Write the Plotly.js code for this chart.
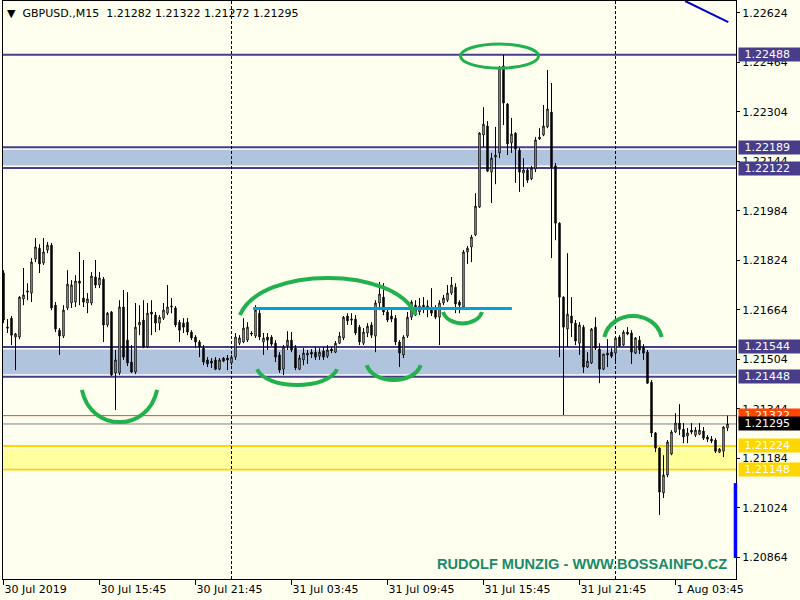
<!DOCTYPE html>
<html><head><meta charset="utf-8">
<script src="https://cdn.plot.ly/plotly-3.0.1.min.js"></script>
<style>html,body{margin:0;padding:0;background:#FFFFF0;}#chart{width:800px;height:600px;}</style>
</head><body><div id="chart"></div>
<script>
// ---------- data ----------
const symbol = "GBPUSD.,M15";
const tickIndex = [0, 24, 48, 72, 96, 120, 144, 168];
const tickLabels = ["30 Jul 2019", "30 Jul 15:45", "30 Jul 21:45", "31 Jul 03:45", "31 Jul 09:45", "31 Jul 15:45", "31 Jul 21:45", "1 Aug 03:45"];
const daySeparators = [57, 153];

const open = [
1.21783,1.21608,1.21637,1.21576,1.21576,1.21699,1.21721,1.21718,1.21828,1.21863,
1.21815,1.21857,1.21873,1.21679,1.21598,1.21579,1.21670,1.21686,1.21689,1.21757,
1.21702,1.21686,1.21686,1.21770,1.21744,1.21763,1.21615,1.21657,1.21460,1.21460,
1.21673,1.21566,1.21495,1.21463,1.21615,1.21631,1.21544,1.21657,1.21647,1.21621,
1.21637,1.21653,1.21673,1.21670,1.21624,1.21621,1.21624,1.21592,1.21576,1.21560,
1.21540,1.21502,1.21498,1.21502,1.21472,1.21508,1.21508,1.21492,1.21511,1.21556,
1.21560,1.21566,1.21589,1.21579,1.21653,1.21560,1.21576,1.21576,1.21556,1.21518,
1.21472,1.21547,1.21566,1.21540,1.21472,1.21502,1.21518,1.21527,1.21527,1.21514,
1.21531,1.21514,1.21537,1.21527,1.21556,1.21573,1.21644,1.21634,1.21634,1.21608,
1.21556,1.21589,1.21615,1.21579,1.21686,1.21705,1.21657,1.21644,1.21637,1.21560,
1.21518,1.21579,1.21640,1.21679,1.21657,1.21679,1.21676,1.21673,1.21663,1.21640,
1.21686,1.21695,1.21718,1.21737,1.21689,1.21673,1.21851,1.21867,1.21906,1.21996,
1.22229,1.22258,1.22109,1.22158,1.22171,1.22452,1.22329,1.22203,1.22235,1.22180,
1.22106,1.22116,1.22087,1.22119,1.22216,1.22229,1.22255,1.22303,1.22129,1.21944,
1.21705,1.21602,1.21644,1.21621,1.21556,1.21608,1.21479,1.21492,1.21608,1.21537,
1.21472,1.21524,1.21527,1.21524,1.21576,1.21550,1.21592,1.21589,1.21524,1.21566,
1.21544,1.21527,1.21430,1.21266,1.21217,1.21072,1.21130,1.21198,1.21269,1.21298,
1.21278,1.21256,1.21275,1.21259,1.21262,1.21272,1.21253,1.21246,1.21243,1.21204,
1.21207,1.21282];
const high = [
1.21792,1.21634,1.21644,1.21589,1.21708,1.21799,1.21750,1.21831,1.21896,1.21876,
1.21896,1.21883,1.21880,1.21689,1.21605,1.21679,1.21792,1.21760,1.21776,1.21851,
1.21825,1.21718,1.21786,1.21825,1.21786,1.21770,1.21657,1.21660,1.21534,1.21695,
1.21728,1.21721,1.21550,1.21686,1.21679,1.21695,1.21686,1.21695,1.21657,1.21647,
1.21686,1.21744,1.21702,1.21676,1.21631,1.21637,1.21637,1.21598,1.21582,1.21566,
1.21550,1.21511,1.21508,1.21511,1.21508,1.21511,1.21518,1.21518,1.21589,1.21582,
1.21637,1.21624,1.21595,1.21679,1.21663,1.21589,1.21589,1.21582,1.21566,1.21527,
1.21550,1.21595,1.21592,1.21550,1.21518,1.21540,1.21534,1.21537,1.21544,1.21540,
1.21544,1.21550,1.21544,1.21563,1.21592,1.21644,1.21653,1.21653,1.21647,1.21615,
1.21605,1.21621,1.21624,1.21695,1.21754,1.21750,1.21670,1.21673,1.21647,1.21566,
1.21582,1.21657,1.21695,1.21695,1.21702,1.21705,1.21695,1.21734,1.21679,1.21695,
1.21712,1.21744,1.21770,1.21750,1.21695,1.21857,1.21870,1.21906,1.22041,1.22238,
1.22319,1.22274,1.22171,1.22255,1.22452,1.22488,1.22332,1.22284,1.22238,1.22187,
1.22154,1.22122,1.22129,1.22222,1.22251,1.22326,1.22439,1.22397,1.22138,1.21947,
1.21708,1.21847,1.21705,1.21631,1.21624,1.21615,1.21527,1.21605,1.21640,1.21556,
1.21521,1.21569,1.21540,1.21576,1.21582,1.21598,1.21608,1.21598,1.21576,1.21579,
1.21553,1.21534,1.21437,1.21269,1.21220,1.21194,1.21243,1.21275,1.21330,1.21359,
1.21298,1.21282,1.21298,1.21285,1.21298,1.21285,1.21259,1.21256,1.21249,1.21217,
1.21288,1.21322];
const low = [
1.21621,1.21589,1.21550,1.21469,1.21569,1.21679,1.21695,1.21689,1.21818,1.21783,
1.21809,1.21847,1.21663,1.21592,1.21518,1.21573,1.21663,1.21670,1.21673,1.21679,
1.21673,1.21653,1.21679,1.21734,1.21734,1.21560,1.21608,1.21450,1.21340,1.21453,
1.21502,1.21482,1.21460,1.21456,1.21582,1.21540,1.21540,1.21582,1.21592,1.21598,
1.21631,1.21647,1.21653,1.21608,1.21560,1.21589,1.21582,1.21566,1.21540,1.21511,
1.21485,1.21479,1.21476,1.21469,1.21469,1.21495,1.21469,1.21485,1.21502,1.21550,
1.21556,1.21560,1.21579,1.21573,1.21566,1.21518,1.21534,1.21547,1.21495,1.21460,
1.21453,1.21534,1.21527,1.21469,1.21469,1.21485,1.21489,1.21508,1.21502,1.21502,
1.21502,1.21508,1.21524,1.21524,1.21553,1.21566,1.21615,1.21615,1.21582,1.21550,
1.21550,1.21576,1.21573,1.21527,1.21663,1.21647,1.21624,1.21624,1.21550,1.21479,
1.21508,1.21573,1.21631,1.21644,1.21647,1.21653,1.21640,1.21644,1.21634,1.21550,
1.21679,1.21689,1.21712,1.21653,1.21653,1.21663,1.21812,1.21818,1.21902,1.21993,
1.22190,1.22109,1.22009,1.22070,1.22154,1.22261,1.22164,1.22171,1.22074,1.22045,
1.22061,1.22074,1.22083,1.22109,1.22213,1.22225,1.22251,1.21831,1.21889,1.21511,
1.21324,1.21544,1.21576,1.21550,1.21518,1.21460,1.21476,1.21489,1.21534,1.21427,
1.21469,1.21479,1.21508,1.21492,1.21544,1.21547,1.21582,1.21489,1.21521,1.21521,
1.21502,1.21424,1.21253,1.21204,1.21001,1.21056,1.21123,1.21194,1.21266,1.21259,
1.21233,1.21233,1.21262,1.21253,1.21259,1.21243,1.21237,1.21233,1.21201,1.21201,
1.21188,1.21272];
const close = [
1.21631,1.21605,1.21582,1.21586,1.21705,1.21712,1.21725,1.21818,1.21867,1.21812,
1.21851,1.21873,1.21670,1.21602,1.21579,1.21663,1.21747,1.21744,1.21757,1.21750,
1.21689,1.21699,1.21773,1.21744,1.21767,1.21615,1.21653,1.21453,1.21502,1.21673,
1.21511,1.21492,1.21463,1.21608,1.21624,1.21544,1.21653,1.21650,1.21621,1.21640,
1.21663,1.21673,1.21676,1.21615,1.21598,1.21608,1.21592,1.21573,1.21560,1.21544,
1.21495,1.21489,1.21492,1.21472,1.21502,1.21498,1.21502,1.21511,1.21576,1.21573,
1.21605,1.21608,1.21586,1.21663,1.21576,1.21573,1.21566,1.21553,1.21511,1.21469,
1.21544,1.21566,1.21534,1.21476,1.21508,1.21524,1.21524,1.21521,1.21511,1.21527,
1.21511,1.21534,1.21531,1.21556,1.21579,1.21640,1.21628,1.21631,1.21589,1.21560,
1.21592,1.21611,1.21582,1.21686,1.21715,1.21657,1.21631,1.21634,1.21560,1.21524,
1.21576,1.21640,1.21689,1.21647,1.21676,1.21670,1.21670,1.21653,1.21640,1.21686,
1.21702,1.21718,1.21744,1.21683,1.21679,1.21851,1.21863,1.21899,1.21999,1.22235,
1.22264,1.22112,1.22154,1.22164,1.22445,1.22332,1.22200,1.22232,1.22183,1.22109,
1.22116,1.22083,1.22122,1.22213,1.22222,1.22258,1.22313,1.22125,1.21944,1.21705,
1.21608,1.21650,1.21621,1.21563,1.21615,1.21479,1.21498,1.21602,1.21540,1.21472,
1.21521,1.21518,1.21514,1.21573,1.21547,1.21592,1.21586,1.21527,1.21573,1.21534,
1.21524,1.21427,1.21266,1.21217,1.21075,1.21130,1.21237,1.21269,1.21298,1.21278,
1.21253,1.21266,1.21269,1.21275,1.21275,1.21249,1.21246,1.21240,1.21207,1.21214,
1.21285,1.21295];

// price levels drawn on the chart
const topLevel = 1.22488;
const upperZone = [1.22122, 1.22189];
const lowerZone = [1.21448, 1.21544];
const yellowZone = [1.21148, 1.21224];
const askPrice = 1.21322;
const neckline = {price: 1.21668, from: 62.4, to: 127.1};

// ---------- styling ----------
const FONT = "DejaVu Sans, Verdana, sans-serif";
const BG = "#FFFFF0";
const SLATE = "#483D8B";
const STEEL = "#B0C4DE";
const GOLD = "#FFD700";
const PALEY = "#FFFF9E";
const GREEN = "#22B14C";

const x = open.map((_, i) => i);
const bid = close[close.length - 1];
const yPx = 0.00003232; // price per pixel (vertical)

const trace = {
  type: "candlestick", x: x, open: open, high: high, low: low, close: close,
  increasing: {line: {color: "#000000", width: 1}, fillcolor: "#FFFFFF"},
  decreasing: {line: {color: "#000000", width: 1}, fillcolor: "#000000"},
  whiskerwidth: 0, hoverinfo: "skip"
};

function hline(y, color, width, layer, dash) {
  return {type: "line", xref: "paper", x0: 0, x1: 1, yref: "y", y0: y, y1: y,
          line: {color: color, width: width, dash: dash || "solid"}, layer: layer || "below"};
}
function zone(lo, hi, fill, edge) {
  const inset = 2.5 * yPx;
  return [
    {type: "rect", xref: "paper", x0: 0, x1: 1, yref: "y", y0: lo, y1: hi, fillcolor: "#FFFFFF", line: {width: 0}, layer: "below"},
    {type: "rect", xref: "paper", x0: 0, x1: 1, yref: "y", y0: lo + inset, y1: hi - inset, fillcolor: fill, line: {width: 0}, layer: "below"},
    hline(lo, edge, 2), hline(hi, edge, 2)
  ];
}
function arc(x0, x1, yEnd, yApex) {
  const w = x1 - x0;
  const yc = (8 * yApex - 2 * yEnd) / 6;
  return {type: "path", xref: "x", yref: "y", layer: "above",
          path: `M${x0},${yEnd} C${x0 + 0.12 * w},${yc} ${x1 - 0.12 * w},${yc} ${x1},${yEnd}`,
          line: {color: GREEN, width: 4}};
}

const shapes = [].concat(
  zone(upperZone[0], upperZone[1], STEEL, SLATE),
  zone(lowerZone[0], lowerZone[1], STEEL, SLATE),
  zone(yellowZone[0], yellowZone[1], PALEY, GOLD),
  [hline(topLevel, SLATE, 2),
   hline(askPrice, "#FF4500", 1),
   hline(bid, "#808080", 1)],
  daySeparators.map(d => ({type: "line", xref: "x", x0: d, x1: d, yref: "paper", y0: 0, y1: 1,
                           line: {color: "#000000", width: 1, dash: "3px,2px"}, layer: "below"})),
  [{type: "line", xref: "x", yref: "y", x0: neckline.from, x1: neckline.to, y0: neckline.price, y1: neckline.price,
    line: {color: "#00A0E0", width: 3}, layer: "above"},
   {type: "line", xref: "x", yref: "y", x0: 170.4, x1: 181.2, y0: 1.22662, y1: 1.22594,
    line: {color: "#0000CD", width: 2}, layer: "above"},
   {type: "line", xref: "paper", yref: "y", x0: 0.9993, x1: 0.9993, y0: 1.20862, y1: 1.21104,
    line: {color: "#0000FF", width: 3.5}, layer: "above"},
   {type: "circle", xref: "x", yref: "y", x0: 114.25, x1: 133.75, y0: 1.22445, y1: 1.22523,
    line: {color: GREEN, width: 3}, layer: "above"},
   arc(19.6, 38.4, 1.21405, 1.21301),
   arc(59.1, 103.1, 1.21647, 1.21767),
   arc(63.4, 83.4, 1.21472, 1.21421),
   arc(90.8, 104.3, 1.21485, 1.21437),
   arc(109.9, 119.6, 1.21657, 1.21620),
   arc(150.2, 164.55, 1.21576, 1.21644)]
);

function priceLabel(v, bg, fg) {
  return {xref: "paper", x: 1, xanchor: "left", xshift: 2, yref: "y", y: v, yanchor: "middle",
          text: "\u2002" + v.toFixed(5), showarrow: false, align: "left", width: 61, height: 13,
          borderpad: 0, bgcolor: bg, font: {family: FONT, size: 11, color: fg}};
}

const annotations = [
  priceLabel(topLevel, SLATE, "#FFFFFF"),
  priceLabel(upperZone[1], SLATE, "#FFFFFF"),
  priceLabel(upperZone[0], SLATE, "#FFFFFF"),
  priceLabel(lowerZone[1], SLATE, "#FFFFFF"),
  priceLabel(lowerZone[0], SLATE, "#FFFFFF"),
  priceLabel(askPrice, "#FF4500", "#FFFFFF"),
  priceLabel(bid, "#000000", "#FFFFFF"),
  priceLabel(yellowZone[1], GOLD, "#FFFFFF"),
  priceLabel(yellowZone[0], GOLD, "#FFFFFF"),
  {xref: "paper", yref: "paper", x: 0.0027, y: 0.979, xanchor: "left", yanchor: "middle", showarrow: false,
   text: "\u25BC\u00A0\u00A0" + symbol + "\u00A0\u00A0" + [open, high, low, close].map(a => a[a.length - 1].toFixed(5)).join(" "),
   font: {family: FONT, size: 11, color: "#000000"}},
  {xref: "paper", yref: "paper", x: 0.5894, y: 0.026, xanchor: "left", yanchor: "middle", showarrow: false,
   text: "RUDOLF MUNZIG - WWW.BOSSAINFO.CZ",
   font: {family: "Liberation Sans, Arial, sans-serif", size: 14.6, weight: "bold", color: "#1A8A6A"}}
];

const layout = {
  width: 800, height: 600,
  margin: {l: 3, r: 64, t: 1, b: 21, pad: 0},
  paper_bgcolor: BG, plot_bgcolor: BG,
  showlegend: false, hovermode: false,
  font: {family: FONT, size: 11, color: "#000000"},
  xaxis: {type: "linear", range: [-0.125, 183.125], tickvals: tickIndex, ticktext: tickLabels,
          ticks: "outside", ticklen: 5, tickcolor: "#000000", ticklabelposition: "outside right",
          showline: true, mirror: true, linecolor: "#000000", linewidth: 1,
          showgrid: false, zeroline: false, rangeslider: {visible: false},
          tickfont: {family: FONT, size: 11, color: "#000000"}},
  yaxis: {side: "right", range: [1.20794, 1.22662], tick0: 1.20864, dtick: 0.0016, tickformat: ".5f",
          ticks: "outside", ticklen: 3, tickcolor: "#000000",
          showline: true, mirror: true, linecolor: "#000000", linewidth: 1,
          showgrid: false, zeroline: false,
          tickfont: {family: FONT, size: 11, color: "#000000"}},
  boxgap: 0.5,
  shapes: shapes,
  annotations: annotations
};

Plotly.newPlot("chart", [trace], layout, {staticPlot: true, displayModeBar: false});
</script>
</body></html>
